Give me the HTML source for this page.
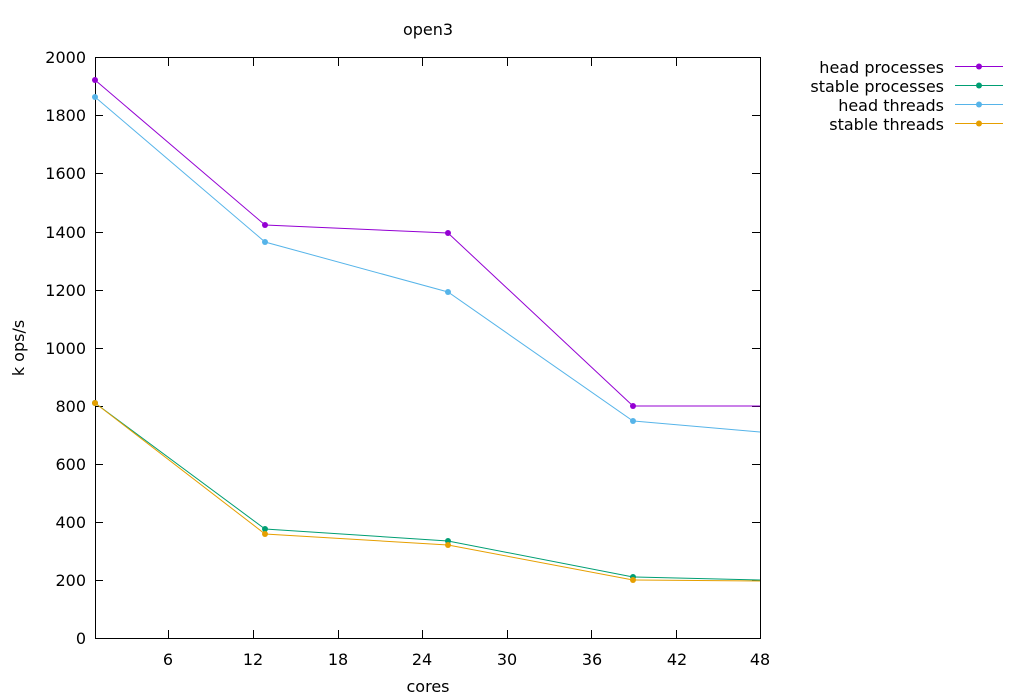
<!DOCTYPE html>
<html><head><meta charset="utf-8"><style>body{margin:0;background:#fff}svg{display:block}text{font-family:"DejaVu Sans",sans-serif;font-size:16px;fill:#000}</style></head><body>
<svg width="1024" height="700" viewBox="0 0 1024 700">
<rect width="1024" height="700" fill="#fff"/>
<text x="428" y="35" text-anchor="middle">open3</text>
<g stroke="#000" stroke-width="1" fill="none">
<rect x="95.5" y="57.5" width="665" height="581"/>
<path d="M95 580.5h8M760 580.5h-8M95 522.5h8M760 522.5h-8M95 464.5h8M760 464.5h-8M95 406.5h8M760 406.5h-8M95 348.5h8M760 348.5h-8M95 290.5h8M760 290.5h-8M95 232.5h8M760 232.5h-8M95 173.5h8M760 173.5h-8M95 115.5h8M760 115.5h-8"/>
<path d="M168.5 638v-8M168.5 58v8M253.5 638v-8M253.5 58v8M338.5 638v-8M338.5 58v8M422.5 638v-8M422.5 58v8M507.5 638v-8M507.5 58v8M591.5 638v-8M591.5 58v8M676.5 638v-8M676.5 58v8"/>
</g>
<g text-anchor="end">
<text x="86" y="644">0</text><text x="86" y="586">200</text><text x="86" y="528">400</text><text x="86" y="470">600</text><text x="86" y="412">800</text><text x="86" y="354">1000</text><text x="86" y="296">1200</text><text x="86" y="238">1400</text><text x="86" y="179">1600</text><text x="86" y="121">1800</text><text x="86" y="63">2000</text>
</g>
<g text-anchor="middle">
<text x="168" y="665">6</text><text x="253" y="665">12</text><text x="338" y="665">18</text><text x="422" y="665">24</text><text x="507" y="665">30</text><text x="592" y="665">36</text><text x="677" y="665">42</text><text x="760" y="665">48</text>
<text x="428" y="692">cores</text>
</g>
<text transform="translate(24,348) rotate(-90)" text-anchor="middle">k ops/s</text>
<g fill="none" stroke-width="1">
<polyline stroke="#9400d3" points="95,80 265,225 448,233 633,406 760,406"/>
<polyline stroke="#009e73" points="95,403 265,529 448,541 633,577 760,580"/>
<polyline stroke="#56b4e9" points="95,97 265,242 448,292 633,421 760,432"/>
<polyline stroke="#e69f00" points="95,403 265,534 448,545 633,580 760,581"/>
</g>
<g fill="#9400d3"><circle cx="95" cy="80" r="3"/><circle cx="265" cy="225" r="3"/><circle cx="448" cy="233" r="3"/><circle cx="633" cy="406" r="3"/></g>
<g fill="#56b4e9"><circle cx="95" cy="97" r="3"/><circle cx="265" cy="242" r="3"/><circle cx="448" cy="292" r="3"/><circle cx="633" cy="421" r="3"/></g>
<g fill="#009e73"><circle cx="95" cy="403" r="3"/><circle cx="265" cy="529" r="3"/><circle cx="448" cy="541" r="3"/><circle cx="633" cy="577" r="3"/></g>
<g fill="#e69f00"><circle cx="95" cy="403" r="3"/><circle cx="265" cy="534" r="3"/><circle cx="448" cy="545" r="3"/><circle cx="633" cy="580" r="3"/></g>
<g text-anchor="end">
<text x="944" y="73">head processes</text><text x="944" y="92">stable processes</text><text x="944" y="111">head threads</text><text x="944" y="130">stable threads</text>
</g>
<g stroke-width="1">
<line x1="955" y1="66.5" x2="1003" y2="66.5" stroke="#9400d3"/><circle cx="979" cy="66.5" r="3" fill="#9400d3"/>
<line x1="955" y1="85.5" x2="1003" y2="85.5" stroke="#009e73"/><circle cx="979" cy="85.5" r="3" fill="#009e73"/>
<line x1="955" y1="104.5" x2="1003" y2="104.5" stroke="#56b4e9"/><circle cx="979" cy="104.5" r="3" fill="#56b4e9"/>
<line x1="955" y1="123.5" x2="1003" y2="123.5" stroke="#e69f00"/><circle cx="979" cy="123.5" r="3" fill="#e69f00"/>
</g>
</svg>
</body></html>
